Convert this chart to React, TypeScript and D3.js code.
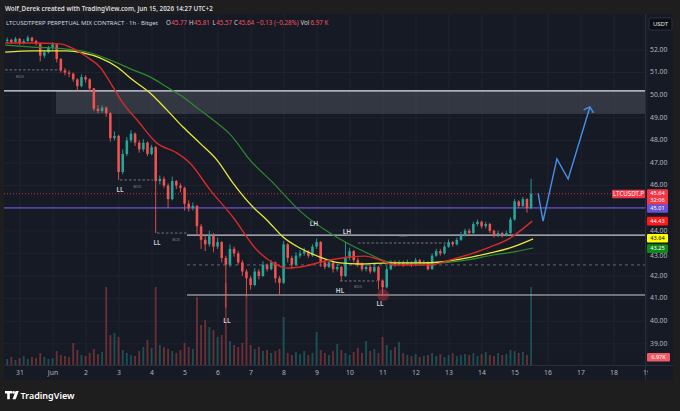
import React from "react";
import * as d3 from "d3";

const W = 680;
const H = 411;

// ---- axis labels ----
const dayLabels = ["31", "Jun", "2", "3", "4", "5", "6", "7", "8", "9", "10", "11", "12", "13", "14", "15", "16", "17", "18", "19"];
const priceTicks = [39, 40, 41, 42, 43, 44, 45, 46, 47, 48, 49, 50, 51, 52];

// ---- candles (3h bars), [close, high, low]; open = previous close ----
const startDay = -0.45;
const candleStep = 0.125;
const firstOpen = 52.4;
const candles: [number, number, number][] = [
  [52.45, 52.55, 52.3], [52.35, 52.5, 52.28], [52.5, 52.58, 52.3], [52.3, 52.52, 52.22],
  [52.4, 52.48, 52.25], [52.55, 52.64, 52.35], [52.4, 52.58, 52.32], [52.3, 52.45, 52.2],
  [51.75, 52.32, 51.5], [51.9, 52.0, 51.65], [52.1, 52.18, 51.85], [52.25, 52.35, 52.0],
  [51.6, 52.28, 51.45], [51.1, 51.65, 51.0], [51.0, 51.2, 50.88], [50.95, 51.1, 50.8],
  [50.7, 51.0, 50.6], [50.4, 50.75, 50.2], [50.8, 50.92, 50.35], [50.7, 50.88, 50.55],
  [50.3, 50.75, 50.15], [49.4, 50.32, 49.3], [49.3, 49.55, 49.2], [49.45, 49.55, 49.22],
  [49.2, 49.5, 49.05], [48.1, 49.25, 47.95], [48.2, 48.4, 48.0], [46.6, 48.25, 46.25],
  [47.4, 47.6, 46.5], [48.0, 48.15, 47.3], [48.3, 48.45, 47.9], [47.9, 48.35, 47.75],
  [47.6, 48.0, 47.45], [47.9, 48.05, 47.5], [47.4, 47.95, 47.3], [47.7, 47.8, 47.35],
  [46.2, 47.75, 43.9], [46.3, 46.45, 46.05], [46.0, 46.4, 45.9], [45.4, 46.1, 45.0],
  [46.2, 46.4, 45.35], [46.0, 46.25, 45.85], [45.9, 46.1, 45.7], [45.2, 45.95, 44.9],
  [45.0, 45.35, 44.85], [45.1, 45.25, 44.9], [44.2, 45.15, 43.8], [43.6, 44.3, 43.2],
  [43.4, 43.8, 43.1], [43.8, 44.0, 43.3], [43.3, 43.9, 43.05], [43.5, 43.7, 43.2],
  [42.8, 43.55, 42.6], [42.5, 42.9, 40.6], [43.2, 43.4, 42.4], [43.0, 43.3, 42.85],
  [42.6, 43.1, 42.5], [42.2, 42.7, 42.0], [41.9, 42.3, 41.1], [41.6, 42.0, 41.4],
  [42.2, 42.35, 41.55], [42.0, 42.3, 41.85], [42.5, 42.65, 41.95], [42.3, 42.55, 42.2],
  [42.6, 42.7, 42.25], [41.9, 42.65, 41.7], [41.7, 42.0, 41.2], [43.4, 43.55, 41.65],
  [42.8, 43.45, 42.6], [42.5, 42.9, 42.3], [42.9, 43.05, 42.45], [43.0, 43.15, 42.8],
  [43.1, 43.25, 42.9], [42.9, 43.15, 42.8], [43.3, 43.4, 42.85], [43.5, 43.65, 43.2],
  [42.6, 43.55, 42.4], [42.4, 42.7, 42.3], [42.6, 42.75, 42.35], [42.3, 42.65, 42.15],
  [42.4, 42.55, 42.2], [42.0, 42.45, 41.78], [42.8, 43.5, 41.95], [43.1, 43.25, 42.7],
  [42.7, 43.15, 42.6], [42.5, 42.8, 42.4], [42.3, 42.6, 42.2], [42.4, 42.5, 42.2],
  [42.2, 42.5, 42.1], [42.4, 42.55, 42.15], [41.8, 42.45, 41.4], [41.5, 41.85, 41.15],
  [42.3, 42.45, 41.45], [42.6, 42.7, 42.25], [42.5, 42.7, 42.4], [42.6, 42.7, 42.45],
  [42.5, 42.68, 42.4], [42.6, 42.72, 42.45], [42.5, 42.65, 42.4], [42.7, 42.8, 42.45],
  [42.55, 42.75, 42.45], [42.6, 42.7, 42.5], [42.3, 42.65, 42.25], [42.9, 43.0, 42.28],
  [43.1, 43.2, 42.85], [43.0, 43.2, 42.9], [43.3, 43.4, 42.95], [43.5, 43.62, 43.25],
  [43.4, 43.55, 43.3], [43.6, 43.7, 43.35], [43.8, 43.95, 43.55], [44.0, 44.1, 43.75],
  [43.9, 44.1, 43.8], [44.3, 44.4, 43.85], [44.4, 44.5, 44.2], [44.2, 44.45, 44.1],
  [44.3, 44.4, 44.1], [44.0, 44.35, 43.9], [43.8, 44.05, 43.7], [43.9, 44.0, 43.72],
  [43.8, 43.95, 43.7], [43.9, 44.0, 43.75], [44.5, 44.6, 43.85], [45.3, 45.4, 44.45],
  [45.1, 45.35, 45.0], [45.4, 45.5, 45.05], [45.0, 45.45, 44.8], [45.64, 46.3, 44.95],
];

const volumes = [
  6, 8, 5, 7, 9, 6, 8, 7,
  12, 8, 6, 7, 14, 10, 9, 8,
  22, 15, 10, 9, 12, 16, 11, 13,
  78, 30, 32, 28, 15, 12, 10, 9,
  14, 18, 25, 17, 78, 20, 18, 16,
  14, 12, 15, 22, 18, 16, 68, 40,
  45, 38, 35, 28, 30, 82, 24, 20,
  18, 22, 70, 20, 16, 18, 14, 15,
  12, 14, 16, 48, 12, 10, 13, 11,
  14, 10, 12, 33, 15, 12, 10, 14,
  21, 15, 12, 10, 13, 17, 12, 24,
  14, 16, 12, 28, 20, 15, 18, 23,
  12, 10, 9, 11, 8, 9, 10, 12,
  9, 11, 8, 10, 12, 9, 10, 11,
  10, 12, 9, 11, 13, 10, 9, 12,
  10, 11, 15, 14, 12, 13, 10, 78,
];

// ---- moving averages [day, price] ----
const redMA: [number, number][] = [
  [-0.45, 52.31], [0.39, 52.31], [1.21, 52.27], [1.52, 52.13], [2.03, 51.69], [2.42, 51.25],
  [2.82, 50.36], [3.12, 49.65], [3.55, 48.9], [4.15, 47.88], [4.76, 47.44], [5.15, 47.0],
  [5.76, 45.81], [6.45, 44.61], [7.18, 43.15], [7.67, 42.58], [8.09, 42.35], [8.48, 42.4],
  [9.39, 42.71], [10.0, 42.84], [10.45, 42.88], [10.91, 42.71], [11.36, 42.49], [12.42, 42.49],
  [13.03, 42.71], [13.64, 42.97], [14.24, 43.28], [14.85, 43.68], [15.52, 44.43],
];
const yellowMA: [number, number][] = [
  [-0.45, 51.91], [0.39, 51.96], [1.42, 51.96], [1.91, 51.87], [2.42, 51.65], [2.94, 51.25],
  [3.42, 50.67], [3.94, 50.1], [4.45, 49.35], [4.94, 48.59], [5.45, 47.88], [5.97, 47.13],
  [6.45, 46.12], [7.06, 45.05], [7.48, 44.48], [7.97, 43.73], [8.48, 43.24], [9.09, 42.84],
  [9.7, 42.58], [10.3, 42.53], [11.21, 42.58], [12.12, 42.58], [12.73, 42.62], [13.55, 42.8],
  [14.24, 43.02], [14.85, 43.24], [15.55, 43.64],
];
const greenMA: [number, number][] = [
  [-0.45, 52.22], [0.39, 52.13], [1.42, 52.04], [2.03, 51.91], [2.73, 51.56], [3.42, 51.12],
  [3.94, 50.81], [4.45, 50.36], [4.94, 49.92], [5.45, 49.35], [5.97, 48.77], [6.36, 48.28],
  [6.97, 47.13], [7.67, 46.12], [8.48, 44.88], [9.39, 43.9], [9.91, 43.46], [10.52, 43.02],
  [11.21, 42.62], [11.91, 42.58], [12.73, 42.58], [13.55, 42.71], [14.33, 42.93], [14.94, 43.06],
  [15.55, 43.24],
];

// ---- drawings ----
const zone = { fromDay: 1.09, top: 50.19, bottom: 49.17 };
const fullLevels = [
  { price: 50.19, color: "#e0e3eb", width: 1.2 },
  { price: 45.01, color: "#6a50d3", width: 1.2 },
];
const partLevels = [
  { fromDay: 5.06, price: 43.81, color: "#c8cad2", width: 1.1, dash: "" },
  { fromDay: 5.06, price: 41.16, color: "#c8cad2", width: 1.1, dash: "" },
  { fromDay: 5.06, price: 42.49, color: "#787b86", width: 0.8, dash: "3,3" },
];
const bosLines: [number, number, number, number, number][] = [
  [-0.45, 1.3, 51.12, 0.0, 50.81],
  [3.03, 4.03, 46.25, 3.55, 45.94],
  [4.15, 5.09, 43.9, 4.73, 43.59],
  [10.24, 13.03, 43.46, 11.61, 43.77],
  [9.7, 10.82, 41.78, 10.24, 41.51],
];
const swingLabels: [string, number, number][] = [
  ["LL", 3.03, 45.81],
  ["LL", 4.15, 43.46],
  ["LL", 6.27, 40.01],
  ["LH", 8.91, 44.3],
  ["LH", 9.91, 43.95],
  ["HL", 9.7, 41.34],
  ["LL", 10.91, 40.76],
];
const circleMark: [number, number] = [11.0, 41.16];
const projection: [number, number][] = [
  [15.7, 45.67], [15.85, 44.43], [16.27, 47.18], [16.61, 46.29], [17.27, 49.48],
];

const lastPrice = 45.64;
const axisTags = [
  { price: 45.01, text: "45.01", fill: "#6a50d3", color: "#ffffff", shift: 0.6, tshift: 0.6 },
  { price: 44.43, text: "44.43", fill: "#ff1a1a", color: "#ffffff", shift: 0, tshift: 0 },
  { price: 43.64, text: "43.64", fill: "#ffff00", color: "#000000", shift: -0.7, tshift: -0.9 },
  { price: 43.25, text: "43.25", fill: "#0c8a16", color: "#ffffff", shift: 0.9, tshift: 0 },
];

// legend pieces: [text, color, x]
const legendItems: [string, string, number][] = [
  ["O", "#d1d4dc", 166],
  ["45.77", "#f7525f", 171.3],
  ["H", "#d1d4dc", 189],
  ["45.81", "#f7525f", 194],
  ["L", "#d1d4dc", 212.5],
  ["45.57", "#f7525f", 216.3],
  ["C", "#d1d4dc", 234],
  ["45.64", "#f7525f", 238.3],
  ["−0.13 (−0.28%)", "#f7525f", 256.5],
  ["Vol", "#d1d4dc", 300.5],
  ["6.97 K", "#f7525f", 310.5],
];

const UP = "#26a69a";
const DOWN = "#ef5350";
const FONT = "'Noto Sans', 'Open Sans', sans-serif";

export default function App() {
  const plotL = 4;
  const plotR = 645;
  const plotT = 14;
  const plotB = 365;

  const x = d3.scaleLinear().domain([0, 18]).range([20, 614]);
  const y = d3.scaleLinear().domain([39, 52]).range([343.8, 50]);
  const vy = d3.scaleLinear().domain([0, 80]).range([plotB, 285]);

  const step = x(candleStep) - x(0);
  const bodyW = step * 0.62;
  const volW = step * 0.45;
  const cx = (i: number) => x(startDay + (i + 0.5) * candleStep);

  const maLine = d3
    .line<[number, number]>()
    .x((d) => x(d[0]))
    .y((d) => y(d[1]))
    .curve(d3.curveMonotoneX);
  const straight = d3
    .line<[number, number]>()
    .x((d) => x(d[0]))
    .y((d) => y(d[1]));

  // arrowhead
  const n = projection.length;
  const tip = [x(projection[n - 1][0]), y(projection[n - 1][1])];
  const prev = [x(projection[n - 2][0]), y(projection[n - 2][1])];
  const ang = Math.atan2(prev[1] - tip[1], prev[0] - tip[0]);
  const headLen = 7;
  const spread = (48 * Math.PI) / 180;
  const h1 = [tip[0] + headLen * Math.cos(ang + spread), tip[1] + headLen * Math.sin(ang + spread)];
  const h2 = [tip[0] + headLen * Math.cos(ang - spread), tip[1] + headLen * Math.sin(ang - spread)];

  const tagX = plotR + 2;
  const tagW = 21;
  const tagFont = 5.6;
  const tagPrices = [lastPrice, ...axisTags.map((t) => t.price)];
  // hide ticks covered by a tag, nudge ticks that sit right next to one
  const tickItems = priceTicks
    .filter((p) => tagPrices.every((tp) => Math.abs(y(p) - y(tp)) > 4.5))
    .map((p) => {
      let ty = y(p);
      tagPrices.forEach((tp) => {
        const d = ty - y(tp);
        if (Math.abs(d) < 6.5) ty = y(tp) + Math.sign(d) * 8.6;
      });
      return { p, ty };
    });

  return (
    <svg
      width={W}
      height={H}
      viewBox={`0 0 ${W} ${H}`}
      style={{ position: "absolute", left: 0, top: 0, display: "block" }}
      fontFamily={FONT}
    >
      <defs>
        <clipPath id="plot">
          <rect x={plotL} y={plotT} width={plotR - plotL} height={plotB - plotT} />
        </clipPath>
        <clipPath id="timeaxis">
          <rect x={plotL} y={plotB} width={plotR - plotL + 3} height={16} />
        </clipPath>
      </defs>

      {/* outer background */}
      <rect x={0} y={0} width={W} height={H} fill="#1e1e1e" />
      <text x={5} y={10.5} fontSize={6.3} fill="#d9dbe0" fontWeight={600}>
        Wolf_Derek created with TradingView.com, Jun 15, 2026 14:27 UTC+2
      </text>

      {/* chart panel */}
      <rect x={plotL} y={plotT} width={673 - plotL} height={380 - plotT} fill="#161a25" />

      {/* grid */}
      <g stroke="#1f2330" strokeWidth={1}>
        {priceTicks.map((p) => (
          <line key={"gh" + p} x1={plotL} x2={plotR} y1={y(p)} y2={y(p)} />
        ))}
        {dayLabels.map((_, i) => (
          <line key={"gv" + i} x1={x(i)} x2={x(i)} y1={plotT} y2={plotB} />
        ))}
      </g>

      <g clipPath="url(#plot)">
        {/* zone */}
        <rect
          x={x(zone.fromDay)}
          y={y(zone.top)}
          width={plotR - x(zone.fromDay)}
          height={y(zone.bottom) - y(zone.top)}
          fill="#787b86"
          opacity={0.3}
        />

        {/* volume */}
        {volumes.map((v, i) => {
          const o = i === 0 ? firstOpen : candles[i - 1][0];
          const up = candles[i][0] >= o;
          return (
            <rect
              key={"v" + i}
              x={cx(i) - volW / 2}
              y={vy(v)}
              width={volW}
              height={plotB - vy(v)}
              fill={up ? UP : DOWN}
              opacity={0.38}
            />
          );
        })}

        {/* horizontal levels */}
        {fullLevels.map((l, i) => (
          <line key={"fl" + i} x1={plotL} x2={plotR} y1={y(l.price)} y2={y(l.price)} stroke={l.color} strokeWidth={l.width} />
        ))}
        {partLevels.map((l, i) => (
          <line
            key={"pl" + i}
            x1={x(l.fromDay)}
            x2={plotR}
            y1={y(l.price)}
            y2={y(l.price)}
            stroke={l.color}
            strokeWidth={l.width}
            strokeDasharray={l.dash || undefined}
          />
        ))}
        {/* last price dotted line */}
        <line x1={plotL} x2={612} y1={y(lastPrice)} y2={y(lastPrice)} stroke="#f23645" strokeWidth={0.8} strokeDasharray="1,2" />

        {/* BOS */}
        {bosLines.map((b, i) => (
          <g key={"b" + i}>
            <line x1={x(b[0])} x2={x(b[1])} y1={y(b[2])} y2={y(b[2])} stroke="#8a8d97" strokeWidth={0.8} strokeDasharray="2.5,2" />
            <text x={x(b[3])} y={y(b[4])} fontSize={4} fill="#787b86" textAnchor="middle" dominantBaseline="middle">
              BOS
            </text>
          </g>
        ))}

        {/* red circle */}
        <circle cx={x(circleMark[0])} cy={y(circleMark[1])} r={6} fill="#f23645" opacity={0.35} />

        {/* candles */}
        {candles.map((c, i) => {
          const o = i === 0 ? firstOpen : candles[i - 1][0];
          const up = c[0] >= o;
          const col = up ? UP : DOWN;
          const top = y(Math.max(o, c[0]));
          const bot = y(Math.min(o, c[0]));
          return (
            <g key={"c" + i}>
              <line x1={cx(i)} x2={cx(i)} y1={y(c[1])} y2={y(c[2])} stroke={col} strokeWidth={0.9} />
              <rect x={cx(i) - bodyW / 2} y={top} width={bodyW} height={Math.max(0.8, bot - top)} fill={col} />
            </g>
          );
        })}

        {/* moving averages */}
        <path d={maLine(greenMA) || ""} fill="none" stroke="#2e8b2e" strokeWidth={1.2} />
        <path d={maLine(yellowMA) || ""} fill="none" stroke="#e8e83a" strokeWidth={1.3} />
        <path d={maLine(redMA) || ""} fill="none" stroke="#d62a2a" strokeWidth={1.4} />

        {/* swing labels */}
        {swingLabels.map((s, i) => (
          <text key={"s" + i} x={x(s[1])} y={y(s[2])} fontSize={6.5} fontWeight={600} fill="#d1d4dc" textAnchor="middle" dominantBaseline="middle">
            {s[0]}
          </text>
        ))}

        {/* projection arrow */}
        <path d={straight(projection) || ""} fill="none" stroke="#4a8fe7" strokeWidth={1.4} strokeLinejoin="miter" />
        <path d={`M${h1[0]},${h1[1]}L${tip[0]},${tip[1]}L${h2[0]},${h2[1]}`} fill="none" stroke="#4a8fe7" strokeWidth={1.4} />
      </g>

      {/* legend line */}
      <text x={6} y={25} fontSize={6} fill="#d1d4dc">
        LTCUSDTPERP PERPETUAL MIX CONTRACT · 1h · Bitget
      </text>
      {legendItems.map((it, i) => (
        <text key={"lg" + i} x={it[2]} y={25} fontSize={6.2} fill={it[1]}>
          {it[0]}
        </text>
      ))}

      {/* axes separators */}
      <line x1={plotR + 0.5} x2={plotR + 0.5} y1={plotT} y2={380} stroke="#2a2e39" strokeWidth={1} />
      <line x1={plotL} x2={673} y1={plotB + 0.5} y2={plotB + 0.5} stroke="#2a2e39" strokeWidth={1} />

      {/* price axis */}
      {tickItems.map((t) => (
        <text key={"pt" + t.p} x={650} y={t.ty} fontSize={6.8} fill="#b2b5be" dominantBaseline="middle">
          {t.p.toFixed(2)}
        </text>
      ))}

      {/* time axis */}
      <g clipPath="url(#timeaxis)">
        {dayLabels.map((d, i) => (
          <text key={"dt" + i} x={x(i)} y={373} fontSize={6.8} fill="#b2b5be" textAnchor="middle" dominantBaseline="middle">
            {d}
          </text>
        ))}
      </g>

      {/* USDT button */}
      <rect x={649} y={18} width={23} height={12} rx={1.5} fill="#0c0e14" stroke="#3a3e4a" strokeWidth={0.7} />
      <text x={660.5} y={24.3} fontSize={6} fill="#e0e3eb" textAnchor="middle" dominantBaseline="middle">
        USDT
      </text>

      {/* last price tags */}
      <rect x={612} y={y(lastPrice) - 4} width={33} height={8.5} rx={1} fill="#f23645" />
      <text x={628.5} y={y(lastPrice) + 0.3} fontSize={6.2} fill="#ffffff" textAnchor="middle" dominantBaseline="middle">
        LTCUSDT.P
      </text>
      <rect x={tagX} y={y(lastPrice) - 4.5} width={tagW} height={17} rx={1} fill="#f23645" />
      <text x={tagX + tagW / 2} y={y(lastPrice) - 0.2} fontSize={tagFont} fill="#ffffff" textAnchor="middle" dominantBaseline="middle">
        45.64
      </text>
      <text x={tagX + tagW / 2} y={y(lastPrice) + 7} fontSize={tagFont} fill="#ffffff" textAnchor="middle" dominantBaseline="middle">
        32:06
      </text>
      {axisTags.map((t, i) => (
        <g key={"tag" + i}>
          <rect x={tagX} y={y(t.price) - 4.3 + t.shift} width={tagW} height={8.6} rx={1} fill={t.fill} />
          <text x={tagX + tagW / 2} y={y(t.price) + 0.3 + t.tshift} fontSize={tagFont} fill={t.color} textAnchor="middle" dominantBaseline="middle">
            {t.text}
          </text>
        </g>
      ))}
      {/* volume tag */}
      <rect x={tagX} y={353} width={tagW + 2} height={8.6} rx={1} fill="#f05a62" />
      <text x={tagX + (tagW + 2) / 2} y={357.6} fontSize={tagFont} fill="#ffffff" textAnchor="middle" dominantBaseline="middle">
        6.97K
      </text>

      {/* TradingView logo */}
      <g fill="#ffffff">
        <path d="M5,391 h7 v2.6 h-2.2 v5.6 h-2.6 v-5.6 h-2.2 z" />
        <circle cx={13.6} cy={392.4} r={1.4} />
        <path d="M15.6,391 h3.2 l-3.1,8.2 h-3.2 z" />
      </g>
      <text x={20.5} y={399} fontSize={9} fontWeight={600} fill="#ffffff">
        TradingView
      </text>
    </svg>
  );
}
